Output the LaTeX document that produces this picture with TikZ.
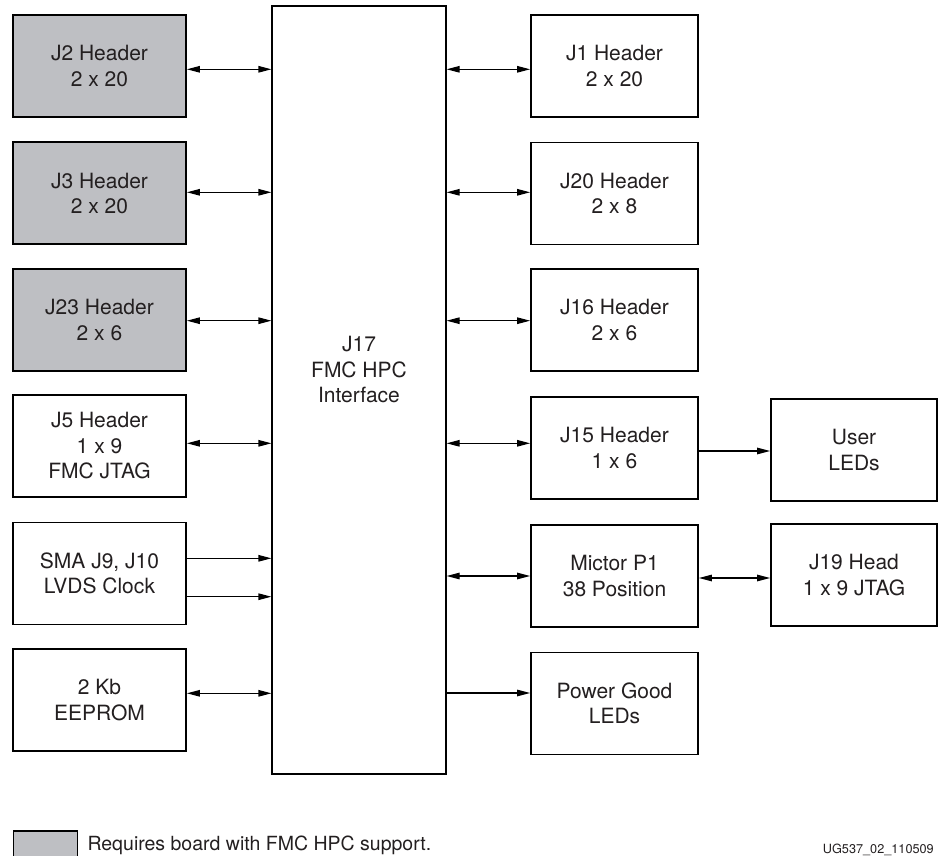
\documentclass[tikz,border=0pt]{standalone}
\usepackage{fontspec}
\setmainfont{TeX Gyre Heros}
\usetikzlibrary{arrows.meta}
\definecolor{txt}{HTML}{231F20}
\definecolor{shade}{HTML}{BEBFC3}
\begin{document}
\begin{tikzpicture}[x=1pt,y=-1pt,
  box/.style={draw=black, line width=1.8pt, fill=white, inner sep=0pt, align=center, text=txt,
    font=\fontsize{21}{25.5}\selectfont, minimum height=102pt},
  lbox/.style={box, minimum width=173pt},
  rbox/.style={box, minimum width=167pt},
  opt/.style={fill=shade},
  link/.style={line width=1.2pt, draw=black},
  both/.style={link, {Triangle[length=13pt,width=6.5pt]}-{Triangle[length=13pt,width=6.5pt]}},
  one/.style={link, -{Triangle[length=13pt,width=6.5pt]}}
]
\useasboundingbox (0,0) rectangle (938,856);
\clip (0,0) rectangle (938,856);

% left column
\node[lbox,opt] (j2) at (99.5,66) {J2 Header\\2 x 20};
\node[lbox,opt] (j3) at (99.5,193.3) {J3 Header\\2 x 20};
\node[lbox,opt] (j23) at (99.5,320) {J23 Header\\2 x 6};
\node[lbox] (j5) at (99.5,446) {J5 Header\\1 x 9\\FMC JTAG};
\node[lbox] (sma) at (99.5,573.5) {SMA J9, J10\\LVDS Clock};
\node[lbox] (eeprom) at (99.5,700) {2 Kb\\EEPROM};

% central
\node[draw=black, line width=1.8pt, minimum width=173.4pt, minimum height=768pt, inner sep=0pt] (j17) at (359,390) {};
\node[text=txt, font=\fontsize{21}{25.5}\selectfont, align=center, inner sep=0pt] (j17t) at (359,370) {J17\\FMC HPC\\Interface};

% right column
\node[rbox] (j1) at (614.5,66) {J1 Header\\2 x 20};
\node[rbox] (j20) at (614.5,193.5) {J20 Header\\2 x 8};
\node[rbox] (j16) at (614.5,320) {J16 Header\\2 x 6};
\node[rbox] (j15) at (614.5,448) {J15 Header\\1 x 6};
\node[rbox] (mictor) at (614.5,576) {Mictor P1\\38 Position};
\node[rbox] (pg) at (614.5,703.5) {Power Good\\LEDs};

% far right
\node[rbox, minimum width=166pt] (user) at (854,450) {User\\LEDs};
\node[rbox, minimum width=166pt] (j19) at (854,575) {J19 Head\\1 x 9 JTAG};

% connectors left
\draw[both] (j2.east |- 0,69.3) -- (j17.west |- 0,69.3);
\draw[both] (j3.east |- 0,192.3) -- (j17.west |- 0,192.3);
\draw[both] (j23.east |- 0,320.7) -- (j17.west |- 0,320.7);
\draw[both] (j5.east |- 0,443.3) -- (j17.west |- 0,443.3);
\draw[one] (sma.east |- 0,558.3) -- (j17.west |- 0,558.3);
\draw[one] (sma.east |- 0,596.7) -- (j17.west |- 0,596.7);
\draw[both] (eeprom.east |- 0,693.3) -- (j17.west |- 0,693.3);

% connectors right
\draw[both] (j17.east |- 0,69.3) -- (j1.west |- 0,69.3);
\draw[both] (j17.east |- 0,192.3) -- (j20.west |- 0,192.3);
\draw[both] (j17.east |- 0,320.7) -- (j16.west |- 0,320.7);
\draw[both] (j17.east |- 0,443.3) -- (j15.west |- 0,443.3);
\draw[both] (j17.east |- 0,576) -- (mictor.west |- 0,576);
\draw[one] (j17.east |- 0,693) -- (pg.west |- 0,693);
\draw[one] (j15.east |- 0,451) -- (user.west |- 0,451);
\draw[both] (mictor.east |- 0,578) -- (j19.west |- 0,578);

% legend
\node[draw=black, line width=1.4pt, fill=shade, minimum width=64pt, minimum height=40pt, inner sep=0pt] (key) at (45.3,851) {};
\node[anchor=base west, inner sep=0pt, text=txt, font=\fontsize{19.5}{23}\selectfont] (keytxt) at (87.3,850) {Requires board with FMC HPC support.};
\node[anchor=base west, inner sep=0pt, text=txt, font=\fontsize{12.7}{15}\selectfont] (fig) at (822.7,853) {UG537\_02\_110509};
\end{tikzpicture}
\end{document}
